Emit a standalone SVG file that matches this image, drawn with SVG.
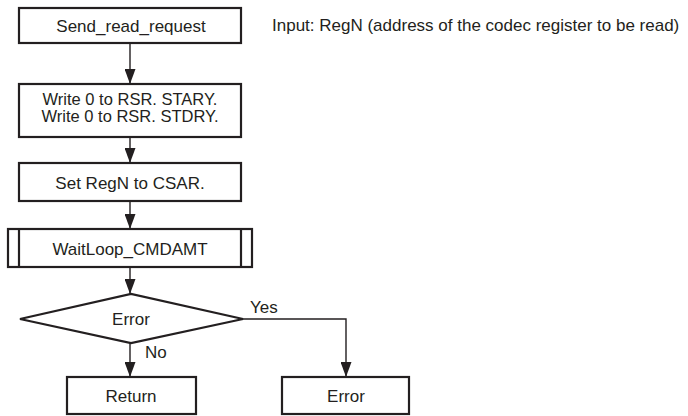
<svg xmlns="http://www.w3.org/2000/svg" width="688" height="416" viewBox="0 0 688 416">
<defs>
<marker id="ah" markerWidth="15" markerHeight="11" refX="10" refY="5" orient="auto" markerUnits="userSpaceOnUse" viewBox="0 0 10 10" preserveAspectRatio="none">
<path d="M0,0 L10,5 L0,10 Z" fill="#231f20"/>
</marker>
<style>
.box{fill:#fff;stroke:#231f20;stroke-width:2.2}
.ln{fill:none;stroke:#231f20;stroke-width:1.4}
.t{font-family:"Liberation Sans",Arial,sans-serif;font-size:17px;fill:#231f20}
.s{font-size:16.5px}
.m{text-anchor:middle}
</style>
</defs>
<rect width="688" height="416" fill="#fff"/>
<g id="connectors">
<line class="ln" x1="130" y1="43" x2="130" y2="84" marker-end="url(#ah)"/>
<line class="ln" x1="130" y1="137" x2="130" y2="163" marker-end="url(#ah)"/>
<line class="ln" x1="130" y1="201" x2="130" y2="229" marker-end="url(#ah)"/>
<line class="ln" x1="130" y1="267" x2="130" y2="294" marker-end="url(#ah)"/>
<line class="ln" x1="130" y1="343" x2="130" y2="377" marker-end="url(#ah)"/>
<polyline class="ln" points="243,319 346,319 346,377" marker-end="url(#ah)"/>
<text class="t" x="250" y="313">Yes</text>
<text class="t" x="145" y="358">No</text>
</g>
<g id="send_read_request">
<rect class="box" x="19" y="8" width="222" height="35"/>
<text class="t m" x="131" y="32">Send_read_request</text>
</g>
<g id="input_note">
<text class="t" x="272" y="31">Input: RegN (address of the codec register to be read)</text>
</g>
<g id="write_rsr">
<rect class="box" x="19" y="84" width="222" height="53"/>
<text class="t s m" x="130" y="105">Write 0 to RSR. STARY.</text>
<text class="t s m" x="130" y="122">Write 0 to RSR. STDRY.</text>
</g>
<g id="set_regn">
<rect class="box" x="19" y="163" width="222" height="38"/>
<text class="t m" x="130" y="189">Set RegN to CSAR.</text>
</g>
<g id="waitloop">
<rect class="box" x="8" y="229" width="244" height="38"/>
<line class="box" x1="19" y1="229" x2="19" y2="267"/>
<line class="box" x1="241" y1="229" x2="241" y2="267"/>
<text class="t m" x="130" y="255">WaitLoop_CMDAMT</text>
</g>
<g id="error_decision">
<polygon class="box" points="20,319 131,294 243,319 131,343"/>
<text class="t m" x="131" y="325">Error</text>
</g>
<g id="return">
<rect class="box" x="67" y="377" width="129" height="37"/>
<text class="t m" x="131" y="402">Return</text>
</g>
<g id="error_end">
<rect class="box" x="282" y="377" width="127" height="37"/>
<text class="t m" x="346" y="402">Error</text>
</g>
</svg>
